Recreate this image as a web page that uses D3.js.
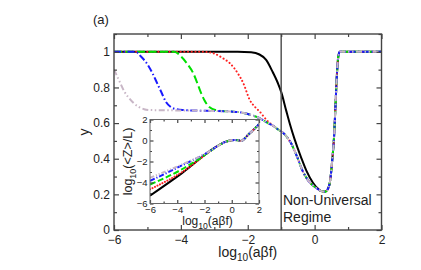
<!DOCTYPE html>
<meta charset="utf-8">
<style>
body { margin: 0; background: #fff; }
text { font-family: "Liberation Sans", Arial, sans-serif; fill: #222; }
.frame { fill: none; stroke: #444; stroke-width: 1.4px; }
.axis line { stroke: #444; stroke-width: 1.2px; }
.axis path { display: none; }
.line { fill: none; stroke-width: 2px; }
</style>
<svg width="421" height="270"></svg>
<script src="https://cdn.jsdelivr.net/npm/d3@7/dist/d3.min.js"></script>
<script>
// main panel: y vs log10(a beta f)
var blackMain = [[-6,1],[-2.3,1],[-1.9,0.997],[-1.65,0.985],[-1.45,0.955],[-1.25,0.885],[-1.1,0.825],[-1.0,0.775],
  [-0.85,0.67],[-0.74,0.595],[-0.6,0.51],[-0.4,0.405],[-0.24,0.33],[-0.05,0.265],[0.12,0.228]];
var redHead = [[-6,1],[-3.3,1],[-3.0,0.99],[-2.75,0.965],[-2.53,0.935],[-2.3,0.88],[-2.13,0.823],[-1.94,0.73],
  [-1.78,0.69],[-1.64,0.664],[-1.45,0.62],[-1.34,0.6]];
var greenHead = [[-6,1],[-4.2,1],[-4.0,0.975],[-3.8,0.93],[-3.63,0.88],[-3.5,0.82],[-3.43,0.785],[-3.3,0.73],
  [-3.15,0.69],[-2.93,0.672],[-2.7,0.667]];
var blueHead = [[-6,1],[-5.35,1],[-5.2,0.975],[-5.0,0.93],[-4.85,0.88],[-4.7,0.82],[-4.6,0.78],[-4.45,0.72],
  [-4.3,0.69],[-4.13,0.678],[-3.9,0.673]];
var greyHead = [[-6,0.9],[-5.9,0.86],[-5.8,0.82],[-5.7,0.78],[-5.55,0.74],[-5.4,0.71],[-5.25,0.69],[-5.1,0.678],[-4.9,0.673]];
var commonMain = [[-4.5,0.672],[-4,0.671],[-3.5,0.67],[-3,0.668],[-2.5,0.665],[-2.2,0.66],[-1.9,0.645],[-1.64,0.627],
  [-1.4,0.6],[-1.24,0.585],[-1.1,0.565],[-0.94,0.545],[-0.8,0.515],[-0.7,0.485],[-0.6,0.445],[-0.5,0.4],[-0.39,0.345],
  [-0.2,0.28],[0.06,0.234],[0.2,0.218],[0.31,0.215],[0.42,0.24],[0.48,0.3],[0.53,0.4],[0.58,0.52],[0.62,0.68],
  [0.66,0.85],[0.7,0.96],[0.75,1.0],[1,1.0],[2,1.0]];

// inset: log10(<Z>/L) vs log10(a beta f)
var blackInset = [[-6,-5.25],[-3.7,-3.15],[-1.1,-0.57]];
var redInset = [[-6,-4.65],[-3.7,-3.05],[-1.3,-0.75]];
var greenInset = [[-6,-4.2],[-3.7,-2.77],[-1.4,-0.85]];
var blueInset = [[-6,-3.85],[-3.7,-2.4],[-1.5,-0.92]];
var greyInset = [[-6,-3.55],[-3.7,-2.3],[-1.5,-0.92]];
var commonInset = [[-1.1,-0.57],[-0.8,-0.35],[-0.52,-0.16],[-0.2,-0.02],[0.22,0.05],[0.5,0.02],[0.7,-0.04],
  [0.95,0.2],[1.19,0.52],[1.5,0.9],[1.93,1.46],[2,1.55]];

var xMajor = [-6,-4,-2,0,2];
var xMinor = [-5,-3,-1,1];
var yMajor = [0,0.2,0.4,0.6,0.8,1];
var yMinor = [0.1,0.3,0.5,0.7,0.9,1.1];
var insetMajor = [-6,-4,-2,0,2];
var insetMinor = [-5,-3,-1,1];
var regimeX = -1;

function join(head, common) {
  var last = head[head.length - 1][0];
  return head.concat(common.filter(function(d) { return d[0] > last; }));
}

var styles = [
  {name: "black", color: "#000", dash: null, w: 2.2},
  {name: "red", color: "#ff2020", dash: "0.1,3.6", w: 2.2, cap: "round"},
  {name: "green", color: "#00e000", dash: "8,3.5", w: 2},
  {name: "blue", color: "#1a1aff", dash: "7,2.5,1.5,2.5", w: 2},
  {name: "grey", color: "#c8b6c6", dash: "6,2.5,1.5,2.5,1.5,2.5", w: 2}
];
var mainSeries = [join(blackMain, commonMain), join(redHead, commonMain), join(greenHead, commonMain),
  join(blueHead, commonMain), join(greyHead, commonMain)];
var insetSeries = [join(blackInset, commonInset), join(redInset, commonInset), join(greenInset, commonInset),
  join(blueInset, commonInset), join(greyInset, commonInset)];

var svg = d3.select("svg");
var box = {left: 114, top: 34, right: 381.5, bottom: 230};
var x = d3.scaleLinear().domain([-6, 2]).range([box.left, box.right]);
var y = d3.scaleLinear().domain([0, 1.1]).range([box.bottom, box.top]);

function ticks(g, sx, sy, b, major, minor, majorY, minorY, big, small, padX, padY, fontSize, yFmt) {
  var bx = g.append("g").attr("class", "axis").attr("transform", "translate(0," + b.bottom + ")");
  bx.call(d3.axisBottom(sx).tickValues(major).tickSize(-big).tickPadding(padX).tickFormat(d3.format("d")));
  bx.append("g").call(d3.axisBottom(sx).tickValues(minor).tickSize(-small).tickFormat(""));
  var tx = g.append("g").attr("class", "axis").attr("transform", "translate(0," + b.top + ")");
  tx.call(d3.axisTop(sx).tickValues(major).tickSize(-big).tickFormat(""));
  tx.append("g").call(d3.axisTop(sx).tickValues(minor).tickSize(-small).tickFormat(""));
  var ly = g.append("g").attr("class", "axis").attr("transform", "translate(" + b.left + ",0)");
  ly.call(d3.axisLeft(sy).tickValues(majorY).tickSize(-big).tickPadding(padY).tickFormat(yFmt));
  ly.append("g").call(d3.axisLeft(sy).tickValues(minorY).tickSize(-small).tickFormat(""));
  var ry = g.append("g").attr("class", "axis").attr("transform", "translate(" + b.right + ",0)");
  ry.call(d3.axisRight(sy).tickValues(majorY).tickSize(-big).tickFormat(""));
  ry.append("g").call(d3.axisRight(sy).tickValues(minorY).tickSize(-small).tickFormat(""));
  g.selectAll(".axis text").attr("font-size", fontSize).attr("fill", "#222")
    .style("font-family", "Liberation Sans, Arial, sans-serif");
  g.selectAll(".axis path").remove();
}

function drawLines(g, sx, sy, series, scale) {
  var line = d3.line().x(function(d) { return sx(d[0]); }).y(function(d) { return sy(d[1]); })
    .curve(d3.curveMonotoneX);
  series.forEach(function(s, i) {
    var st = styles[i];
    g.append("path").datum(s).attr("class", "line")
      .attr("d", line)
      .attr("stroke", st.color)
      .attr("stroke-width", st.w * scale)
      .attr("stroke-linecap", st.cap || "butt")
      .attr("stroke-dasharray", st.dash ? st.dash.split(",").map(function(v) { return +v * scale; }).join(",") : null);
  });
}

var main = svg.append("g");
svg.append("clipPath").attr("id", "clipMain").append("rect")
  .attr("x", box.left).attr("y", box.top).attr("width", box.right - box.left).attr("height", box.bottom - box.top);
var plot = main.append("g").attr("clip-path", "url(#clipMain)");
drawLines(plot, x, y, mainSeries, 1);

// regime divider
main.append("line").attr("x1", x(regimeX)).attr("x2", x(regimeX)).attr("y1", box.top).attr("y2", box.bottom)
  .attr("stroke", "#555").attr("stroke-width", 1.5);

ticks(main, x, y, box, xMajor, xMinor, yMajor, yMinor, 5, 3, 5, 4, "12px", function(d) { return d === 0 || d === 1 ? d3.format("d")(d) : d3.format(".1f")(d); });
main.append("rect").attr("class", "frame").attr("x", box.left).attr("y", box.top)
  .attr("width", box.right - box.left).attr("height", box.bottom - box.top);

// inset
var ib = {left: 150, top: 119.5, right: 259, bottom: 203.5};
var ix = d3.scaleLinear().domain([-6, 2]).range([ib.left, ib.right]);
var iy = d3.scaleLinear().domain([-6, 2]).range([ib.bottom, ib.top]);
var inset = svg.append("g");
inset.append("rect").attr("x", ib.left).attr("y", ib.top).attr("width", ib.right - ib.left)
  .attr("height", ib.bottom - ib.top).attr("fill", "#fff");
svg.append("clipPath").attr("id", "clipInset").append("rect")
  .attr("x", ib.left).attr("y", ib.top).attr("width", ib.right - ib.left).attr("height", ib.bottom - ib.top);
drawLines(inset.append("g").attr("clip-path", "url(#clipInset)"), ix, iy, insetSeries, 0.75);
ticks(inset, ix, iy, ib, insetMajor, insetMinor, insetMajor, insetMinor, 3.5, 2, 2.5, 2.5, "9.5px", d3.format("d"));
inset.append("rect").attr("class", "frame").attr("x", ib.left).attr("y", ib.top)
  .attr("width", ib.right - ib.left).attr("height", ib.bottom - ib.top).style("stroke-width", "1px").style("stroke", "#666");

// labels
function logLabel(g, px, py, rest, size, rotate) {
  var t = g.append("text").attr("text-anchor", "middle").attr("font-size", size)
    .attr("transform", "translate(" + px + "," + py + ")" + (rotate ? " rotate(-90)" : ""));
  t.append("tspan").text("log");
  t.append("tspan").attr("dy", size * 0.3).attr("font-size", size * 0.72).text("10");
  t.append("tspan").attr("dy", -size * 0.3).text(rest);
}
logLabel(svg, x(-2), 257, "(a\u03b2f)", 14, false);
logLabel(svg, ix(-2) + 3, 225, "(a\u03b2f)", 12, false);
logLabel(svg, 132, (ib.top + ib.bottom) / 2, "(<Z>/L)", 12.5, true);

svg.append("text").attr("font-size", 14).attr("text-anchor", "middle")
  .attr("transform", "translate(89," + ((box.top + box.bottom) / 2) + ") rotate(-90)").text("y");
svg.append("text").attr("x", 93).attr("y", 24).attr("font-size", 13).text("(a)");
svg.append("text").attr("x", 283).attr("y", 205).attr("font-size", 14).text("Non-Universal");
svg.append("text").attr("x", 283).attr("y", 222).attr("font-size", 14).text("Regime");
</script>
